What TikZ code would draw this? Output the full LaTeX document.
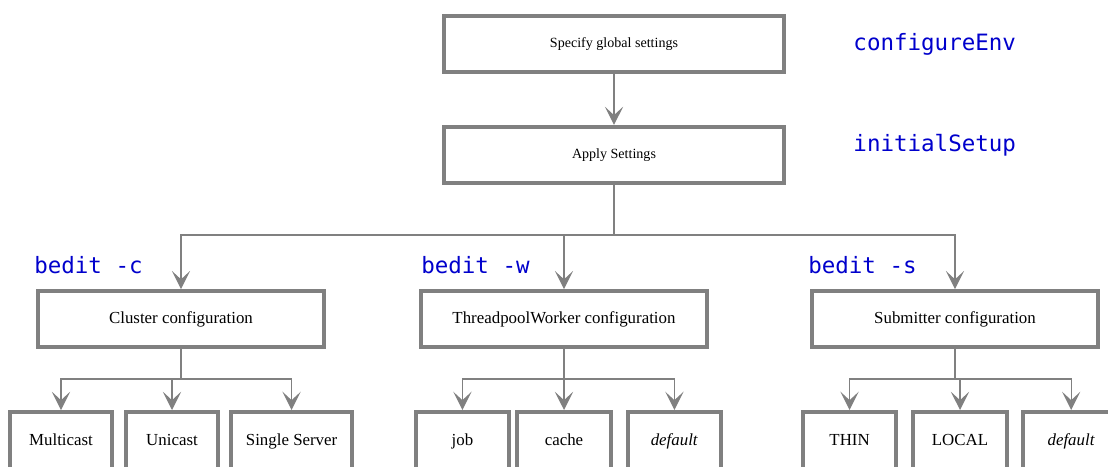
\documentclass[tikz,border=0pt]{standalone}
\usepackage{fontspec}
\setmainfont{Liberation Serif}
\newfontfamily\codefont{DejaVu Sans Mono}
\usetikzlibrary{arrows.meta}
\definecolor{linegray}{HTML}{808080}
\definecolor{cmdblue}{HTML}{0000CC}

\begin{document}
\begin{tikzpicture}[
	box/.style={
		draw=linegray, line width=2.6pt, rectangle,
		minimum width=8.5cm, minimum height=1.4cm,
		font=\fontsize{10}{12}\selectfont, align=center, inner sep=3pt
	},
	midbox/.style={box, minimum width=7.15cm, font=\fontsize{12}{14}\selectfont},
	leaf/.style={box, anchor=north, minimum height=0pt, inner ysep=0pt,
		text height=0.85cm, text depth=1.2cm, font=\fontsize{12}{14}\selectfont},
	edge/.style={-{Stealth[length=13pt,width=13pt,inset=6pt]}, draw=linegray, line width=1pt},
	cmd/.style={text=cmdblue, font=\codefont\fontsize{16}{18}\selectfont, anchor=west, inner sep=0pt},
	]
	
	\useasboundingbox (0,0) rectangle (27.7,11.65);
	\clip (0,0) rectangle (27.7,11.65);
	
	\node[box] (global) at (15.35, 10.55) {Specify global settings};
	\node[box] (apply)  at (15.35, 7.78)  {Apply Settings};
	
	\node[midbox] (cluster) at (4.525, 3.675)  {Cluster configuration};
	\node[midbox] (worker)  at (14.1, 3.675)   {ThreadpoolWorker configuration};
	\node[midbox] (submit)  at (23.875, 3.675) {Submitter configuration};
	
	\node[leaf, minimum width=2.55cm] (multicast) at (1.525, 1.4) {Multicast};
	\node[leaf, minimum width=2.3cm]  (unicast)   at (4.3, 1.4)   {Unicast};
	\node[leaf, minimum width=3.03cm] (single)    at (7.29, 1.4)  {Single Server};
	
	\node[leaf, minimum width=2.33cm] (job)      at (11.56, 1.4) {job};
	\node[leaf, minimum width=2.35cm] (cache)    at (14.1, 1.4)  {cache};
	\node[leaf, minimum width=2.33cm] (wdefault) at (16.86, 1.4) {\textit{default}};
	
	\node[leaf, minimum width=2.33cm] (thin)     at (21.24, 1.4) {THIN};
	\node[leaf, minimum width=2.35cm] (local)    at (24.0, 1.4)  {LOCAL};
	\node[leaf, minimum width=2.4cm]  (sdefault) at (26.78, 1.4) {\textit{default}};
	
	\node[cmd] (envcmd)   at (21.33, 10.55) {configureEnv};
	\node[cmd] (setupcmd) at (21.33, 8.025) {initialSetup};
	\node[cmd] (ccmd)     at (0.85, 5.025)  {bedit -c};
	\node[cmd] (wcmd)     at (10.525, 5.025) {bedit -w};
	\node[cmd] (scmd)     at (20.2, 5.025)  {bedit -s};
	
	% branch points
	\coordinate (split)  at (15.35, 5.775);
	\coordinate (csplit) at (4.525, 2.175);
	\coordinate (wsplit) at (14.1, 2.175);
	\coordinate (ssplit) at (23.875, 2.175);
	
	\draw[edge] (global) -- (apply);
	\draw[edge] (apply.south) -- (split) -| (cluster.north);
	\draw[edge] (split) -| (worker.north);
	\draw[edge] (split) -| (submit.north);
	
	\draw[edge] (cluster.south) -- (csplit) -| (multicast.north);
	\draw[edge] (csplit) -| (unicast.north);
	\draw[edge] (csplit) -| (single.north);
	
	\draw[edge] (worker.south) -- (wsplit) -| (job.north);
	\draw[edge] (wsplit) -- (cache.north);
	\draw[edge] (wsplit) -| (wdefault.north);
	
	\draw[edge] (submit.south) -- (ssplit) -| (thin.north);
	\draw[edge] (ssplit) -| (local.north);
	\draw[edge] (ssplit) -| (sdefault.north);
	
\end{tikzpicture}
\end{document}
